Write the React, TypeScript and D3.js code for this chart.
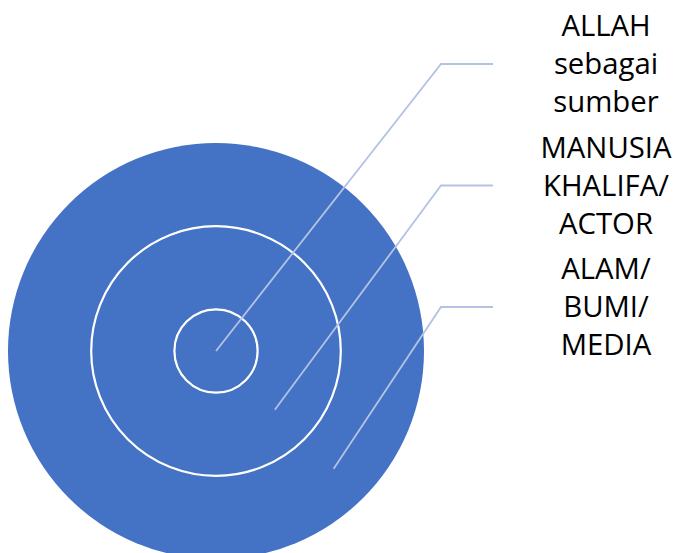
import React from "react";
import * as d3 from "d3";

const levels = ["ALLAH sebagai sumber", "MANUSIA KHALIFA/ ACTOR", "ALAM/ BUMI/ MEDIA"];
const ringValues = [1, 3, 5];
const anchorValues = [0, 2, 4];
const labelLines = [
  ["ALLAH", "sebagai", "sumber"],
  ["MANUSIA", "KHALIFA/", "ACTOR"],
  ["ALAM/", "BUMI/", "MEDIA"],
];

const W = 679;
const H = 553;
const cx = 216;
const cy = 351;
const BLUE = "#4472c4";
const LEADER = "#b4c3e4";

export default function App() {
  const r = d3.scaleLinear().domain([0, 5]).range([0, 208]);
  const ly = d3.scaleLinear().domain([0, 2]).range([64, 307]);
  const angle = Math.PI / 4;
  const elbowX = 441;
  const endX = 493;
  const textX = 606;
  const lineH = 38;
  const fontSize = 29.3;

  return (
    <svg
      width={W}
      height={H}
      style={{ position: "absolute", left: 0, top: 0, background: "#fff" }}
    >
      <circle cx={cx} cy={cy} r={r(ringValues[2])} fill={BLUE} />
      {ringValues.slice(0, 2).map((v, i) => (
        <circle key={i} cx={cx} cy={cy} r={r(v)} fill="none" stroke="#fff" strokeWidth={2.2} />
      ))}
      {anchorValues.map((v, i) => {
        const x0 = cx + r(v) * Math.cos(angle);
        const y0 = cy + r(v) * Math.sin(angle);
        const y1 = ly(i);
        const path = d3.path();
        path.moveTo(x0, y0);
        path.lineTo(elbowX, y1);
        path.lineTo(endX, y1);
        return (
          <path key={i} d={path.toString()} fill="none" stroke={LEADER} strokeWidth={1.8} />
        );
      })}
      {labelLines.map((lines, i) => (
        <text
          key={i}
          x={textX}
          textAnchor="middle"
          fontFamily="'Open Sans', sans-serif"
          fontSize={fontSize}
          fill="#000"
          aria-label={levels[i]}
        >
          {lines.map((t, j) => (
            <tspan key={j} x={textX} y={ly(i) - lineH + 10 + j * lineH}>
              {t}
            </tspan>
          ))}
        </text>
      ))}
    </svg>
  );
}
